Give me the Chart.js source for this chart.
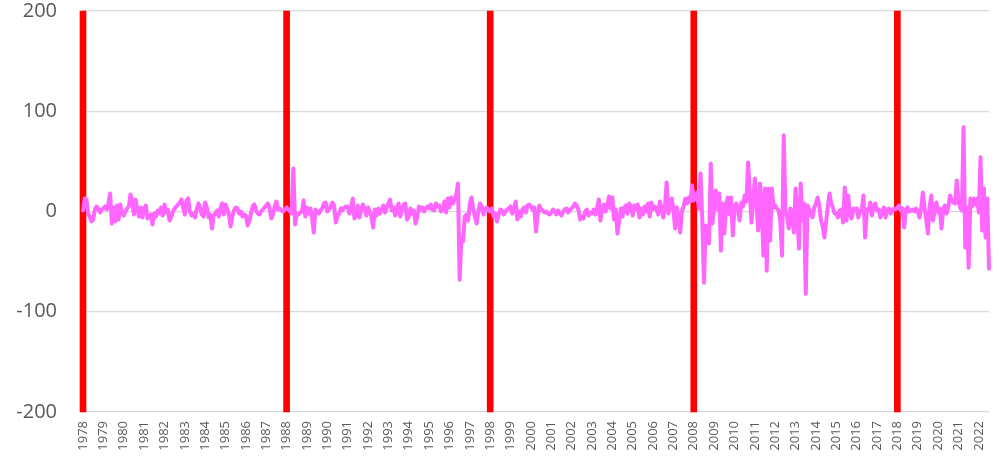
<!DOCTYPE html>
<html>
<head>
<meta charset="utf-8">
<script src="https://cdn.jsdelivr.net/npm/chart.js@4/dist/chart.umd.min.js"></script>
<style>
  html, body { margin: 0; padding: 0; background: #fff; }
  #wrap { width: 999px; height: 468px; position: relative; }
</style>
</head>
<body>
<div id="wrap"><canvas id="chart"></canvas></div>
<script>
"use strict";

// monthly values, one row per year (2022 ends in July)
const y1978 = [1, 13, 12, -2, -5, -10, -8, 2, 5, 3, -1, 2];
const y1979 = [3, 5, 2, 8, 18, -12, 4, -10, 6, -8, 7, -2];
const y1980 = [-4, 0, 3, 5, 17, 10, -3, 12, 2, -5, 4, -6];
const y1981 = [3, 6, -7, -4, -3, -13, -2, -5, 1, -2, 4, -4];
const y1982 = [7, -1, 2, -9, -6, 0, 3, 5, 7, 9, 12, 4];
const y1983 = [-3, 11, 13, 0, -4, -2, -6, 2, 8, 5, -3, -5];
const y1984 = [9, 4, -6, -3, -17, -4, -2, 1, -5, 3, 8, -3];
const y1985 = [7, 2, -3, -15, -5, 1, 4, 3, -2, 0, -5, -3];
const y1986 = [-4, -14, -10, -2, 5, 7, 1, -2, -3, 0, 2, 4];
const y1987 = [6, 8, 3, -7, -3, 5, 10, 2, 3, 1, 0, 2];
const y1988 = [4, 2, 0, -2, 43, -13, -2, -3, -1, 0, 11, -5];
const y1989 = [4, -2, 3, -6, -21, 2, 0, -2, 1, 3, 8, 9];
const y1990 = [0, 2, 5, 9, 6, -11, -5, -2, 3, 1, 4, 5];
const y1991 = [5, -2, 3, 13, -7, -3, 6, -6, 2, 7, 3, -4];
const y1992 = [4, 0, -5, -16, 2, -4, 3, -2, 1, 6, -1, 4];
const y1993 = [8, 12, 1, 4, -4, 3, 8, -5, 2, 7, 8, -8];
const y1994 = [-5, 3, -2, 1, -12, -6, 5, 2, 4, 0, 3, 5];
const y1995 = [3, 7, 2, 1, 8, 5, 6, 0, 2, 10, -1, 13];
const y1996 = [4, 14, 8, 12, 17, 28, -68, -27, -30, -5, -3, -9];
const y1997 = [8, 14, 2, -5, -12, 0, 8, 5, -3, 2, 4, 1];
const y1998 = [0, 3, -5, -2, -10, -3, 2, 1, -3, 0, 2, 3];
const y1999 = [5, -2, 3, 10, -8, 0, -5, 2, 4, -1, 6, 7];
const y2000 = [5, 2, 4, -20, -3, 6, 2, 1, -1, 0, -2, -3];
const y2001 = [-1, 2, 0, -3, 1, -2, -4, 0, 2, 3, -1, 1];
const y2002 = [3, 5, 8, 6, 2, -8, -5, -7, 0, 2, -4, -1];
const y2003 = [-2, 2, -3, 4, 12, -9, 2, 7, 0, 5, 15, 3];
const y2004 = [14, -8, 2, -22, -10, 3, -5, 4, 6, -2, 8, 5];
const y2005 = [-4, 6, 2, 7, -6, 3, -3, 5, 0, 8, -5, 9];
const y2006 = [2, 5, 3, -3, 10, 4, -6, 5, 29, -2, 6, 13];
const y2007 = [2, -17, 4, -5, -21, 0, 5, 13, 8, 14, 10, 26];
const y2008 = [11, 15, 19, 3, 38, -10, -71, -14, -20, -32, 48, -12];
const y2009 = [5, 21, 2, 18, -39, 8, -22, 6, 14, -3, 14, -24];
const y2010 = [3, 8, 4, -9, 9, 5, 16, 10, 49, 20, -11, 12];
const y2011 = [33, 5, -19, 28, 10, -44, 23, -59, 23, -29, 23, 4];
const y2012 = [6, 3, 1, -10, -44, 76, 1, -5, -17, 3, -2, -21];
const y2013 = [23, 0, -37, 28, -9, 8, -82, 6, 2, -3, -6, 4];
const y2014 = [8, 14, 5, -9, -15, -26, -10, 5, 18, 8, 4, -2];
const y2015 = [-2, -6, 1, 2, -11, 24, -9, 16, -2, -7, 3, 1];
const y2016 = [3, -6, 1, 1, 16, -26, 2, 1, 9, -4, 5, 8];
const y2017 = [1, 2, -6, 0, 4, -6, 2, 3, -2, 1, 3, 2];
const y2018 = [4, 6, 1, 3, -16, 2, 4, 0, 1, 2, 0, 3];
const y2019 = [1, -6, 3, 19, 4, -8, -22, 5, 16, -9, 2, 9];
const y2020 = [-1, 3, -17, 2, 6, -2, 4, 16, 11, 9, 8, 31];
const y2021 = [10, 4, 1, 84, -36, 4, -56, 13, 5, 13, 7, 13];
const y2022 = [-1, 54, -19, 23, -26, 13, -57];

const yearRows = [y1978, y1979, y1980, y1981, y1982, y1983, y1984, y1985, y1986, y1987,
    y1988, y1989, y1990, y1991, y1992, y1993, y1994, y1995, y1996, y1997,
    y1998, y1999, y2000, y2001, y2002, y2003, y2004, y2005, y2006, y2007,
    y2008, y2009, y2010, y2011, y2012, y2013, y2014, y2015, y2016, y2017,
    y2018, y2019, y2020, y2021, y2022];
const firstYear = 1978;

// years that get a full-height red marker
const markerYears = [1978, 1988, 1998, 2008, 2018];
const markerRange = [-200, 200];

const yTicks = [-200, -100, 0, 100, 200];

let labels = [];
let values = [];
yearRows.forEach(function (row, i) {
    row.forEach(function (v, m) {
        labels.push(m == 0 ? String(firstYear + i) : "");
        values.push(v);
    });
});

let markers = labels.map(function (lab) {
    return markerYears.indexOf(Number(lab)) >= 0 ? markerRange : null;
});

new Chart(document.getElementById("chart"), {
    type: "bar",
    data: {
        labels: labels,
        datasets: [{
            type: "line",
            data: values,
            borderColor: "#ff66ff",
            borderWidth: 4,
            borderJoinStyle: "round",
            borderCapStyle: "round",
            pointRadius: 0,
            tension: 0,
            order: 0
        }, {
            type: "bar",
            data: markers,
            backgroundColor: "#ff0000",
            barThickness: 6,
            clip: false,
            order: 1
        }]
    },
    options: {
        responsive: true,
        maintainAspectRatio: false,
        animation: false,
        layout: {
            padding: { top: 11, right: 10, bottom: 0, left: 0 }
        },
        plugins: {
            legend: { display: false },
            tooltip: { enabled: false }
        },
        scales: {
            x: {
                offset: false,
                grid: { display: false, drawTicks: false },
                border: { display: false },
                ticks: {
                    autoSkip: false,
                    minRotation: 90,
                    maxRotation: 90,
                    padding: 9,
                    color: "#595959",
                    font: { family: "'Open Sans', sans-serif", size: 13 }
                },
                afterFit: function (scale) {
                    scale.height = 56;
                    scale.paddingLeft = 0;
                    scale.paddingRight = 0;
                }
            },
            y: {
                min: yTicks[0],
                max: yTicks[yTicks.length - 1],
                grid: { color: "#d9d9d9", lineWidth: 1.3, drawTicks: false },
                border: { display: false },
                afterBuildTicks: function (scale) {
                    scale.ticks = yTicks.map(function (v) { return { value: v }; });
                },
                ticks: {
                    padding: 26,
                    color: "#595959",
                    font: { family: "'Open Sans', sans-serif", size: 20 }
                },
                afterFit: function (scale) {
                    scale.width = 83;
                    scale.paddingTop = 0;
                    scale.paddingBottom = 0;
                }
            }
        }
    }
});
</script>
</body>
</html>
